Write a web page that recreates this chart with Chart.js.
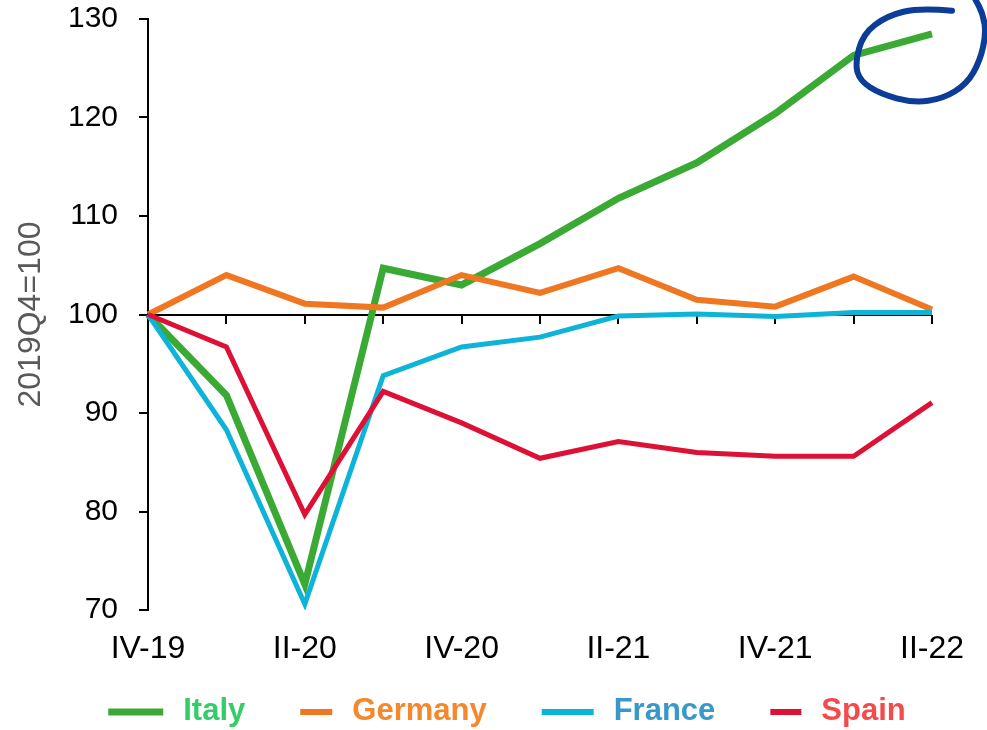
<!DOCTYPE html>
<html>
<head>
<meta charset="utf-8">
<title>Construction output, 2019Q4=100</title>
<script src="https://cdn.jsdelivr.net/npm/chart.js@4.4.1/dist/chart.umd.min.js"></script>
<style>
  html, body { margin: 0; padding: 0; background: #ffffff; }
  canvas { display: block; }
</style>
</head>
<body>
<canvas id="chart" width="987" height="730"></canvas>
<script>
// Quarters shown on the horizontal axis (only every other one is labelled)
const quarters = ['IV-19', 'I-20', 'II-20', 'III-20', 'IV-20', 'I-21', 'II-21', 'III-21', 'IV-21', 'I-22', 'II-22'];

// Index values, 2019Q4 = 100
const italy   = [100, 91.8, 72.6, 104.7, 103.0, 107.2, 111.8, 115.4, 120.4, 126.3, 128.5];
const germany = [100, 104.0, 101.1, 100.7, 104.0, 102.2, 104.7, 101.5, 100.8, 103.85, 100.5];
const france  = [100, 88.3, 70.6, 93.8, 96.7, 97.7, 99.85, 100.05, 99.8, 100.2, 100.2];
const spain   = [100, 96.7, 79.7, 92.2, 89.0, 85.4, 87.1, 86.0, 85.6, 85.6, 91.05];

// Y axis range and step
const yMin = 70, yMax = 130, yStep = 10;
const baseLevel = 100;

const FONT = '"Liberation Sans", Arial, sans-serif';

// Axis drawn through the base level with downward tick marks at every quarter
const baseAxisPlugin = {
  id: 'baseAxis',
  beforeDatasetsDraw(chart) {
    const { ctx, chartArea, scales } = chart;
    const y = Math.round(scales.y.getPixelForValue(baseLevel));
    ctx.save();
    ctx.strokeStyle = '#000000';
    ctx.lineWidth = 2;
    ctx.beginPath();
    ctx.moveTo(chartArea.left, y);
    ctx.lineTo(chartArea.right, y);
    for (let i = 1; i < quarters.length; i++) {
      const x = Math.round(scales.x.getPixelForValue(i));
      ctx.moveTo(x, y);
      ctx.lineTo(x, y + 9);
    }
    ctx.stroke();
    ctx.restore();
  }
};

// Hand-drawn style loop around the latest Italy reading
const highlightPlugin = {
  id: 'highlight',
  afterDraw(chart) {
    const meta = chart.getDatasetMeta(0);
    const pt = meta.data[meta.data.length - 1];
    if (!pt) return;
    const px = pt.x, py = pt.y;
    const pts = [
      [20, -23], [-12, -26], [-45, -18], [-69, 0], [-77, 30], [-72, 47],
      [-52, 60], [-19, 69], [11, 65], [35, 50], [48, 27], [54, 0], [51, -20], [43, -35]
    ].map(([dx, dy]) => [px + dx, py + dy]);
    const { ctx } = chart;
    ctx.save();
    ctx.strokeStyle = '#0b3d98';
    ctx.lineWidth = 6;
    ctx.lineCap = 'round';
    ctx.lineJoin = 'round';
    ctx.beginPath();
    ctx.moveTo(pts[0][0], pts[0][1]);
    for (let i = 1; i < pts.length - 1; i++) {
      const mx = (pts[i][0] + pts[i + 1][0]) / 2;
      const my = (pts[i][1] + pts[i + 1][1]) / 2;
      ctx.quadraticCurveTo(pts[i][0], pts[i][1], mx, my);
    }
    const last = pts[pts.length - 1];
    ctx.lineTo(last[0], last[1]);
    ctx.stroke();
    ctx.restore();
  }
};

// Legend row under the axis labels: swatch + coloured bold name
const legendPlugin = {
  id: 'legendRow',
  afterDraw(chart) {
    const { ctx } = chart;
    const items = chart.data.datasets.map(ds => ({
      label: ds.label,
      line: ds.borderColor,
      text: ds.legendTextColor,
      swatch: ds.legendSwatch,
      thick: ds.legendThick
    }));
    const gapSwatchText = 20;
    const gapItems = 55;
    ctx.save();
    ctx.font = 'bold 31px ' + FONT;
    let total = 0;
    items.forEach((it, i) => {
      it.tw = ctx.measureText(it.label).width;
      total += it.swatch + gapSwatchText + it.tw + (i < items.length - 1 ? gapItems : 0);
    });
    let x = 507 - total / 2;
    const y = 712;
    items.forEach(it => {
      ctx.strokeStyle = it.line;
      ctx.lineWidth = it.thick;
      ctx.lineCap = 'butt';
      ctx.beginPath();
      ctx.moveTo(x, y);
      ctx.lineTo(x + it.swatch, y);
      ctx.stroke();
      x += it.swatch + gapSwatchText;
      ctx.fillStyle = it.text;
      ctx.textBaseline = 'middle';
      ctx.textAlign = 'left';
      ctx.fillText(it.label, x, y - 1);
      x += it.tw + gapItems;
    });
    ctx.restore();
  }
};

const ctx = document.getElementById('chart').getContext('2d');
new Chart(ctx, {
  type: 'line',
  data: {
    labels: quarters,
    datasets: [
      { label: 'Italy', data: italy, borderColor: '#3aaa35', borderWidth: 7, order: 3,
        legendTextColor: '#35cc6a', legendSwatch: 55, legendThick: 7 },
      { label: 'Germany', data: germany, borderColor: '#ef7722', borderWidth: 6, order: 2,
        legendTextColor: '#f4882c', legendSwatch: 32, legendThick: 6 },
      { label: 'France', data: france, borderColor: '#0db4d8', borderWidth: 5, order: 1,
        legendTextColor: '#3a98c8', legendSwatch: 52, legendThick: 6 },
      { label: 'Spain', data: spain, borderColor: '#dd1035', borderWidth: 5, order: 0,
        legendTextColor: '#f34a4c', legendSwatch: 31, legendThick: 6 }
    ]
  },
  options: {
    responsive: false,
    animation: false,
    devicePixelRatio: 1,
    layout: { padding: { top: 19, right: 55, bottom: 70, left: 12 } },
    elements: {
      point: { radius: 0, hoverRadius: 0 },
      line: { tension: 0, fill: false, borderJoinStyle: 'miter', borderCapStyle: 'butt' }
    },
    plugins: {
      legend: { display: false },
      tooltip: { enabled: false },
      title: { display: false }
    },
    scales: {
      x: {
        type: 'category',
        offset: false,
        grid: { display: false, drawTicks: false },
        border: { display: false },
        ticks: {
          autoSkip: false,
          maxRotation: 0,
          minRotation: 0,
          padding: 20,
          color: '#000000',
          font: { family: FONT, size: 32 },
          callback: (v, i) => (i % 2 === 0 ? quarters[i] : '')
        },
        afterFit(scale) {
          scale.height = 50;
          scale.paddingLeft = 0;
          scale.paddingRight = 0;
        }
      },
      y: {
        min: yMin,
        max: yMax,
        grid: {
          drawOnChartArea: false,
          drawTicks: true,
          tickLength: 9,
          color: '#000000',
          lineWidth: 2
        },
        border: { display: true, color: '#000000', width: 2 },
        ticks: {
          stepSize: yStep,
          padding: 21,
          color: '#000000',
          font: { family: FONT, size: 30 }
        },
        title: {
          display: true,
          text: '2019Q4=100',
          color: '#595959',
          font: { family: FONT, size: 32 },
          padding: { top: 0, bottom: 0 }
        },
        afterFit(scale) {
          scale.width = 136;
          scale.paddingTop = 0;
          scale.paddingBottom = 0;
        }
      }
    }
  },
  plugins: [baseAxisPlugin, highlightPlugin, legendPlugin]
});
</script>
</body>
</html>
